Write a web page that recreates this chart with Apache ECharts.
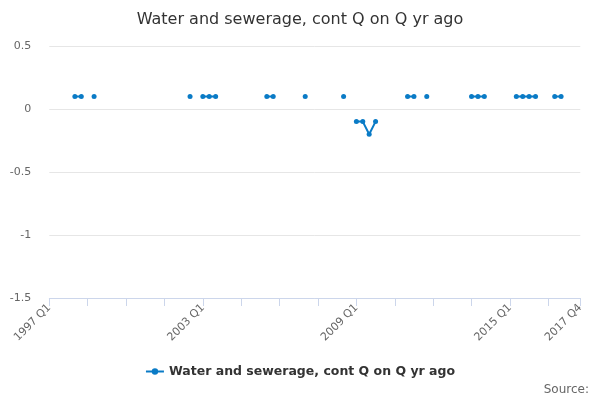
<!DOCTYPE html>
<html>
<head>
<meta charset="utf-8">
<script src="https://cdn.jsdelivr.net/npm/echarts@6/dist/echarts.min.js"></script>
<style>html,body{margin:0;padding:0;background:#fff;}#c{width:600px;height:400px;}</style>
</head>
<body>
<div id="c"></div>
<script>
var titleText = 'Water and sewerage, cont Q on Q yr ago';
var seriesName = 'Water and sewerage, cont Q on Q yr ago';
var startYear = 1997, endYear = 2017;
var categories = [];
for (var y = startYear; y <= endYear; y++) { for (var q = 1; q <= 4; q++) categories.push(y + ' Q' + q); }
var values = [
  null, null, null, null, 0.1, 0.1, null, 0.1,          // 1997-1998
  null, null, null, null, null, null, null, null,       // 1999-2000
  null, null, null, null, null, null, 0.1, null,        // 2001-2002
  0.1, 0.1, 0.1, null, null, null, null, null,          // 2003-2004
  null, null, 0.1, 0.1, null, null, null, null,         // 2005-2006
  0.1, null, null, null, null, null, 0.1, null,         // 2007-2008
  -0.1, -0.1, -0.2, -0.1, null, null, null, null,       // 2009-2010
  0.1, 0.1, null, 0.1, null, null, null, null,          // 2011-2012
  null, null, 0.1, 0.1, 0.1, null, null, null,          // 2013-2014
  null, 0.1, 0.1, 0.1, 0.1, null, null, 0.1,            // 2015-2016
  0.1, null, null, null                                 // 2017
];
var yTicks = { min: -1.5, max: 0.5, interval: 0.5 };
var lastIdx = categories.length - 1;

var chart = echarts.init(document.getElementById('c'));
chart.setOption({
  animation: false,
  backgroundColor: '#fff',
  title: {
    text: titleText, left: 'center', top: 7,
    textStyle: { fontFamily: 'DejaVu Sans', fontSize: 16, fontWeight: 'normal', color: '#333' }
  },
  legend: {
    bottom: 17, left: 'center', itemWidth: 18, itemHeight: 8, itemGap: 10,
    textStyle: { fontFamily: 'DejaVu Sans', fontSize: 12.5, fontWeight: 'bold', color: '#333' },
    data: [seriesName]
  },
  graphic: [{
    type: 'text', right: 11, top: 384,
    style: { text: 'Source:', fontFamily: 'DejaVu Sans', fontSize: 12, fill: '#666' }
  }],
  grid: { left: 49.3, right: 19.7, top: 46, bottom: 102, containLabel: false },
  xAxis: {
    type: 'category', data: categories, boundaryGap: false,
    axisLine: { onZero: false, lineStyle: { color: '#ccd6eb' } },
    axisTick: { show: true, length: 8, lineStyle: { color: '#ccd6eb' },
      interval: function (i) { return i % 6 === 0 || i === lastIdx; } },
    axisLabel: { rotate: 45, fontFamily: 'DejaVu Sans', fontSize: 11, color: '#666', margin: 8,
      interval: function (i) { return i % 24 === 0 || i === lastIdx; } },
    splitLine: { show: false }
  },
  yAxis: {
    type: 'value', min: yTicks.min, max: yTicks.max, interval: yTicks.interval,
    axisLine: { show: false }, axisTick: { show: false },
    axisLabel: { fontFamily: 'DejaVu Sans', fontSize: 11, color: '#666', margin: 18 },
    splitLine: { lineStyle: { color: '#e6e6e6' } }
  },
  series: [{
    name: seriesName, type: 'line', data: values, connectNulls: false,
    showSymbol: true, showAllSymbol: true, symbol: 'circle', symbolSize: 5,
    lineStyle: { color: '#0a7bc6', width: 2 },
    itemStyle: { color: '#0a7bc6' }
  }]
});
</script>
</body>
</html>
